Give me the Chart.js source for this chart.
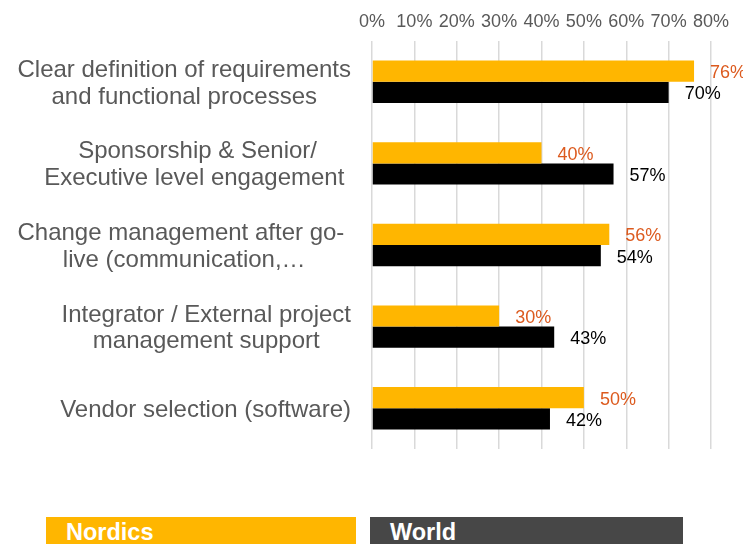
<!DOCTYPE html>
<html>
<head>
<meta charset="utf-8">
<script src="https://cdn.jsdelivr.net/npm/chart.js@4.4.0/dist/chart.umd.min.js"></script>
<style>
  html, body { margin: 0; padding: 0; background: #fff; overflow: hidden; }
  #wrap { position: relative; width: 743px; height: 544px; overflow: hidden; }
  .legendBox {
    position: absolute; top: 517px; height: 40px;
    font: bold 23.5px "Liberation Sans", Arial, sans-serif;
    color: #fff; line-height: 28px; padding-top: 1px; box-sizing: border-box;
    padding-left: 20px;
  }
</style>
</head>
<body>
<div id="wrap">
  <canvas id="myChart" width="743" height="544"></canvas>
  <div class="legendBox" style="left:46px;width:310px;background:#ffb600;">Nordics</div>
  <div class="legendBox" style="left:370px;width:313px;background:#474747;">World</div>
</div>
<script>
// chart values
const categories = [
    ['Clear definition of requirements', 'and functional processes'],
    ['Sponsorship & Senior/', 'Executive level engagement '],
    ['Change management after go- ', 'live (communication,…'],
    ['Integrator / External project', 'management support'],
    'Vendor selection (software)'
];
const nordics = [76, 40, 56, 30, 50];
const world = [70, 57, 54, 43, 42];
const xMin = 0;
const xMax = 80;
const xStep = 10;

const FONT = '"Liberation Sans", Arial, sans-serif';

// category labels: each block right aligned, its lines centred on each other
const categoryLabels = {
    id: 'categoryLabels',
    afterDraw(chart) {
        const ctx = chart.ctx;
        const yScale = chart.scales.y;
        const right = yScale.right - 21;
        ctx.save();
        ctx.font = '24px ' + FONT;
        ctx.fillStyle = '#595959';
        ctx.textAlign = 'center';
        ctx.textBaseline = 'alphabetic';
        chart.data.labels.forEach((lab, i) => {
            const lines = [].concat(lab);
            const w = Math.max(...lines.map(l => ctx.measureText(l).width));
            const cx = right - w / 2;
            const cy = yScale.getPixelForTick(i);
            lines.forEach((l, k) => {
                ctx.fillText(l, cx, cy + (k - (lines.length - 1) / 2) * 26.8 + 8.4);
            });
        });
        ctx.restore();
    }
};

// draws the % value just right of each bar
const valueLabels = {
    id: 'valueLabels',
    afterDatasetsDraw(chart) {
        const ctx = chart.ctx;
        chart.data.datasets.forEach((ds, i) => {
            const meta = chart.getDatasetMeta(i);
            meta.data.forEach((bar, j) => {
                ctx.save();
                ctx.font = '18px ' + FONT;
                ctx.fillStyle = ds.labelColor;
                ctx.textAlign = 'left';
                ctx.textBaseline = 'middle';
                ctx.fillText(ds.data[j] + '%', bar.x + 16, bar.y + 2);
                ctx.restore();
            });
        });
    }
};

const ctx = document.getElementById('myChart').getContext('2d');
new Chart(ctx, {
    type: 'bar',
    data: {
        labels: categories,
        datasets: [{
            label: 'Nordics',
            data: nordics,
            backgroundColor: '#ffb600',
            labelColor: '#dc5a1e',
            barPercentage: 1,
            categoryPercentage: 0.52
        }, {
            label: 'World',
            data: world,
            backgroundColor: '#000000',
            labelColor: '#000000',
            barPercentage: 1,
            categoryPercentage: 0.52
        }]
    },
    options: {
        indexAxis: 'y',
        responsive: false,
        animation: false,
        layout: { padding: { left: 0, right: 32, top: 0, bottom: 95 } },
        plugins: {
            legend: { display: false },
            tooltip: { enabled: false }
        },
        scales: {
            x: {
                position: 'top',
                min: xMin,
                max: xMax,
                border: { display: false },
                grid: { color: '#d9d9d9', lineWidth: 1.5, drawTicks: false },
                ticks: {
                    stepSize: xStep,
                    padding: 8,
                    color: '#595959',
                    font: { family: FONT, size: 18 },
                    callback: v => v + '%'
                },
                afterFit: axis => { axis.height = 41; }
            },
            y: {
                border: { display: false },
                grid: { display: false, drawTicks: false },
                ticks: { display: false },
                afterFit: axis => { axis.width = 372; }
            }
        }
    },
    plugins: [valueLabels, categoryLabels]
});
</script>
</body>
</html>
